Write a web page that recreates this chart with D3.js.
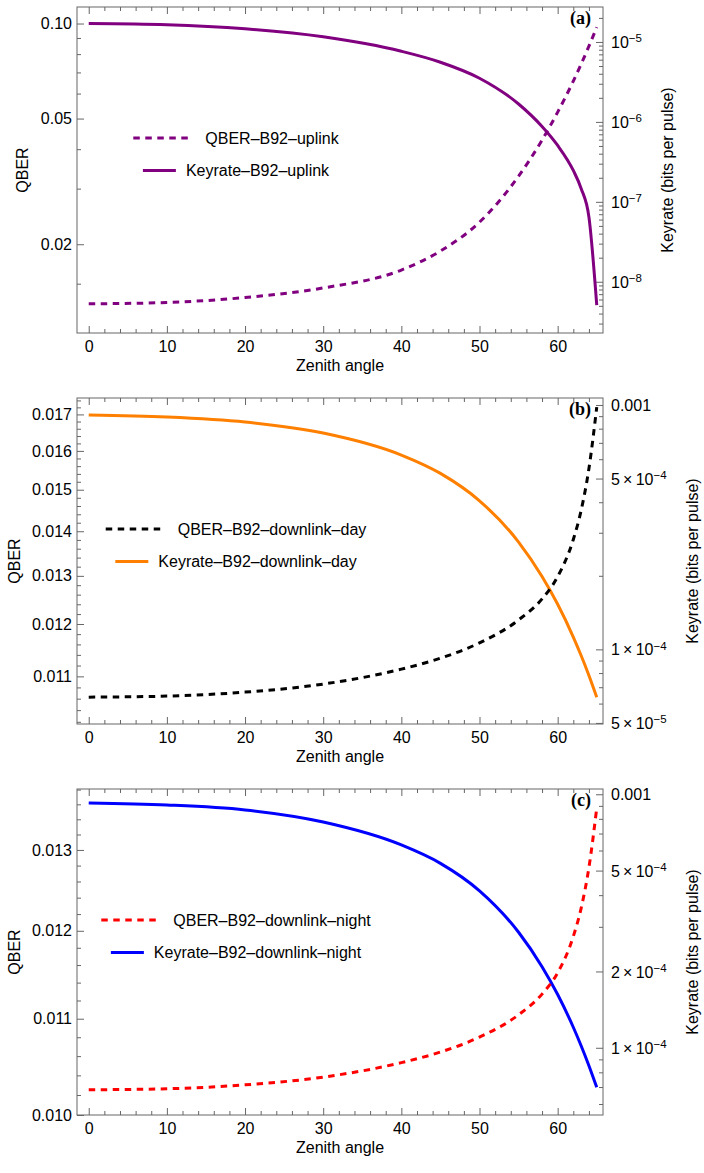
<!DOCTYPE html>
<html>
<head>
<meta charset="utf-8">
<script src="https://cdn.jsdelivr.net/npm/d3@7"></script>
<style>
  body { margin: 0; background: #fff; }
</style>
</head>
<body>
<div id="chart"></div>
<script>
// zenith angles (degrees) where the curves were read
const angles = [0, 10, 20, 30, 40, 45, 50, 55, 58, 60, 62, 63, 64, 65];

// (a) uplink
const qberUp = [0.01295, 0.01308, 0.01356, 0.01454, 0.01657, 0.01903, 0.0235, 0.03287, 0.04272, 0.0524, 0.06568, 0.07432, 0.08476, 0.09734];
const keyUp  = [1.698e-5, 1.641e-5, 1.462e-5, 1.161e-5, 7.65e-6, 5.58e-6, 3.52e-6, 1.674e-6, 8.76e-7, 5.07e-7, 2.47e-7, 1.471e-7, 6.44e-8, 5.1e-9];

// (b) downlink day
const qberDay = [0.010627, 0.010645, 0.010716, 0.01086, 0.011133, 0.011337, 0.01163, 0.012082, 0.012511, 0.012984, 0.01381, 0.014492, 0.015537, 0.017208];
const keyDay  = [9.10e-4, 8.93e-4, 8.52e-4, 7.68e-4, 6.24e-4, 5.25e-4, 4.055e-4, 2.748e-4, 1.987e-4, 1.529e-4, 1.123e-4, 9.44e-5, 7.82e-5, 6.37e-5];

// (c) downlink night
const qberNight = [0.010253, 0.010263, 0.010303, 0.010382, 0.010532, 0.010643, 0.010802, 0.011043, 0.011271, 0.011512, 0.011933, 0.01227, 0.012776, 0.013551];
const keyNight  = [9.24e-4, 9.07e-4, 8.67e-4, 7.77e-4, 6.31e-4, 5.34e-4, 4.16e-4, 2.855e-4, 2.089e-4, 1.622e-4, 1.205e-4, 1.019e-4, 8.50e-5, 6.98e-5];

// tick values and labels
const xTicks = [0, 10, 20, 30, 40, 50, 60];
const qTicksA = [0.02, 0.05, 0.10];
const qLabelsA = ["0.02", "0.05", "0.10"];
const qTicksB = [0.011, 0.012, 0.013, 0.014, 0.015, 0.016, 0.017];
const qTicksC = [0.010, 0.011, 0.012, 0.013];
const kTicksA = [1e-8, 1e-7, 1e-6, 1e-5];
const kLabelsA = [["10", "−8"], ["10", "−7"], ["10", "−6"], ["10", "−5"]];
const kTicksB = [5e-5, 1e-4, 5e-4, 1e-3];
const kLabelsB = [["5\u2009×\u200910", "−5"], ["1\u2009×\u200910", "−4"], ["5\u2009×\u200910", "−4"], ["0.001", ""]];
const kTicksC = [1e-4, 2e-4, 5e-4, 1e-3];
const kLabelsC = [["1\u2009×\u200910", "−4"], ["2\u2009×\u200910", "−4"], ["5\u2009×\u200910", "−4"], ["0.001", ""]];

const width = 704, panelH = 391;
const frame = { left: 77, right: 603, top: 7, bottom: 333 };
const sans = '"Liberation Sans", Arial, sans-serif';

const svg = d3.select("#chart").append("svg")
    .attr("width", width)
    .attr("height", panelH * 3)
    .style("font-family", sans);

const x = d3.scaleLinear().domain([-1.5, 65.8]).range([frame.left, frame.right]);

// minor ticks on a log axis: 1..9 x every decade inside the domain
function logMinors(domain, majors) {
  const out = [];
  for (let e = -10; e <= -2; e++) {
    for (let m = 1; m <= 9; m++) {
      const v = m * Math.pow(10, e);
      if (v >= domain[0] && v <= domain[1] && !majors.some(t => Math.abs(t - v) / v < 1e-6)) out.push(v);
    }
  }
  return out;
}
function linMinors(domain, step, majors) {
  return d3.range(Math.ceil(domain[0] / step - 1e-6), Math.floor(domain[1] / step + 1e-6) + 1)
    .map(i => +(i * step).toFixed(6))
    .filter(v => !majors.some(t => Math.abs(t - v) < 1e-7));
}

const panels = [
  { letter: "(a)", qber: qberUp, key: keyUp, qColor: "#800080", kColor: "#800080",
    qName: "QBER–B92–uplink", kName: "Keyrate–B92–uplink",
    qDomain: [0.01047, 0.1128], kDomain: [2.286e-9, 2.738e-5],
    qTicks: qTicksA, qFormat: (d, i) => qLabelsA[i],
    qMinor: [0.015, 0.03, 0.04, 0.06, 0.07, 0.08, 0.09],
    kTicks: kTicksA, kLabels: kLabelsA, qTitleX: 22, kTitleX: 667 },
  { letter: "(b)", qber: qberDay, key: keyDay, qColor: "#000000", kColor: "#ff8000",
    qName: "QBER–B92–downlink–day", kName: "Keyrate–B92–downlink–day",
    qDomain: [0.010163, 0.01747], kDomain: [4.95e-5, 1.068e-3],
    qTicks: qTicksB, qFormat: d3.format(".3f"),
    qMinor: linMinors([0.010163, 0.01747], 0.0002, qTicksB),
    kTicks: kTicksB, kLabels: kLabelsB, qTitleX: 14, kTitleX: 692 },
  { letter: "(c)", qber: qberNight, key: keyNight, qColor: "#ff0000", kColor: "#0000ff",
    qName: "QBER–B92–downlink–night", kName: "Keyrate–B92–downlink–night",
    qDomain: [0.0100, 0.013808], kDomain: [5.43e-5, 1.049e-3],
    qTicks: qTicksC, qFormat: d3.format(".3f"),
    qMinor: linMinors([0.0100, 0.013808], 0.0002, qTicksC),
    kTicks: kTicksC, kLabels: kLabelsC, qTitleX: 14, kTitleX: 692 }
];

const frameColor = "#666";
const fontSize = 16;

panels.forEach((p, pi) => {
  const g = svg.append("g").attr("transform", `translate(0,${pi * panelH})`);

  const yL = d3.scaleLog().domain(p.qDomain).range([frame.bottom, frame.top]);
  const yR = d3.scaleLog().domain(p.kDomain).range([frame.bottom, frame.top]);

  // frame
  g.append("rect")
    .attr("x", frame.left).attr("y", frame.top)
    .attr("width", frame.right - frame.left).attr("height", frame.bottom - frame.top)
    .attr("fill", "none").attr("stroke", frameColor).attr("stroke-width", 1);

  const styleAxis = sel => {
    sel.select(".domain").remove();
    sel.selectAll("line").attr("stroke", frameColor);
    sel.selectAll("text").attr("fill", "#000").attr("font-size", fontSize)
      .attr("font-family", sans);
  };

  // x axis: bottom with labels, top mirrored
  const xMinor = d3.range(0, 66, 2).filter(v => v % 10 !== 0);
  g.append("g").attr("transform", `translate(0,${frame.bottom})`)
    .call(d3.axisBottom(x).tickValues(xTicks).tickSize(-7).tickPadding(8).tickFormat(d3.format("d")))
    .call(styleAxis);
  g.append("g").attr("transform", `translate(0,${frame.bottom})`)
    .call(d3.axisBottom(x).tickValues(xMinor).tickSize(-4).tickFormat(""))
    .call(styleAxis);
  g.append("g").attr("transform", `translate(0,${frame.top})`)
    .call(d3.axisTop(x).tickValues(xTicks).tickSize(-7).tickFormat(""))
    .call(styleAxis);
  g.append("g").attr("transform", `translate(0,${frame.top})`)
    .call(d3.axisTop(x).tickValues(xMinor).tickSize(-4).tickFormat(""))
    .call(styleAxis);

  // left axis (QBER)
  g.append("g").attr("transform", `translate(${frame.left},0)`)
    .call(d3.axisLeft(yL).tickValues(p.qTicks).tickSize(-7).tickPadding(5).tickFormat(p.qFormat))
    .call(styleAxis);
  g.append("g").attr("transform", `translate(${frame.left},0)`)
    .call(d3.axisLeft(yL).tickValues(p.qMinor).tickSize(-4).tickFormat(""))
    .call(styleAxis);

  // right axis (keyrate)
  const rAxis = g.append("g").attr("transform", `translate(${frame.right},0)`)
    .call(d3.axisRight(yR).tickValues(p.kTicks).tickSize(-7).tickPadding(8).tickFormat(""))
    .call(styleAxis);
  rAxis.selectAll(".tick text").each(function(d, i) {
    const t = d3.select(this).attr("dy", "0.35em");
    const lab = p.kLabels[i];
    t.append("tspan").text(lab[0]);
    if (lab[1]) t.append("tspan").attr("dy", "-0.5em").attr("font-size", 11.5).text(lab[1]);
  });
  g.append("g").attr("transform", `translate(${frame.right},0)`)
    .call(d3.axisRight(yR).tickValues(logMinors(p.kDomain, p.kTicks)).tickSize(-4).tickFormat(""))
    .call(styleAxis);

  // axis titles
  g.append("text")
    .attr("transform", `translate(${p.qTitleX},${(frame.top + frame.bottom) / 2}) rotate(-90)`)
    .attr("text-anchor", "middle").attr("dy", "0.35em").attr("font-size", fontSize)
    .text("QBER");
  g.append("text")
    .attr("transform", `translate(${p.kTitleX},${(frame.top + frame.bottom) / 2}) rotate(-90)`)
    .attr("text-anchor", "middle").attr("dy", "0.35em").attr("font-size", fontSize)
    .text("Keyrate (bits per pulse)");
  g.append("text")
    .attr("x", (frame.left + frame.right) / 2).attr("y", 365)
    .attr("text-anchor", "middle").attr("dy", "0.35em").attr("font-size", fontSize)
    .text("Zenith angle");

  // panel letter
  g.append("text")
    .attr("x", 591).attr("y", 24)
    .attr("text-anchor", "end")
    .style("font-family", '"Liberation Serif", "DejaVu Serif", serif')
    .attr("font-weight", "bold").attr("font-size", 18)
    .text(p.letter);

  // curves
  const qLine = d3.line().x((d, i) => x(angles[i])).y(d => yL(d)).curve(d3.curveMonotoneX);
  const kLine = d3.line().x((d, i) => x(angles[i])).y(d => yR(d)).curve(d3.curveMonotoneX);

  g.append("path").datum(p.key)
    .attr("fill", "none").attr("stroke", p.kColor).attr("stroke-width", 3)
    .attr("d", kLine);
  g.append("path").datum(p.qber)
    .attr("fill", "none").attr("stroke", p.qColor).attr("stroke-width", 3)
    .attr("stroke-dasharray", "6.5,5.5")
    .attr("d", qLine);

  // legend
  const rows = [
    { name: p.qName, color: p.qColor, dash: "6.5,5.5", sw: 58, gap: 14, y: 138 },
    { name: p.kName, color: p.kColor, dash: null, sw: 33, gap: 10, y: 170.5 }
  ];
  rows.forEach(r => {
    const txt = g.append("text").attr("y", r.y).attr("dy", "0.35em")
      .attr("font-size", fontSize).text(r.name);
    const tw = txt.node().getComputedTextLength();
    const x0 = 236 - (r.sw + r.gap + tw) / 2;
    txt.attr("x", x0 + r.sw + r.gap);
    g.append("line")
      .attr("x1", x0).attr("x2", x0 + r.sw)
      .attr("y1", r.y).attr("y2", r.y)
      .attr("stroke", r.color).attr("stroke-width", 3)
      .attr("stroke-dasharray", r.dash);
  });
});
</script>
</body>
</html>
